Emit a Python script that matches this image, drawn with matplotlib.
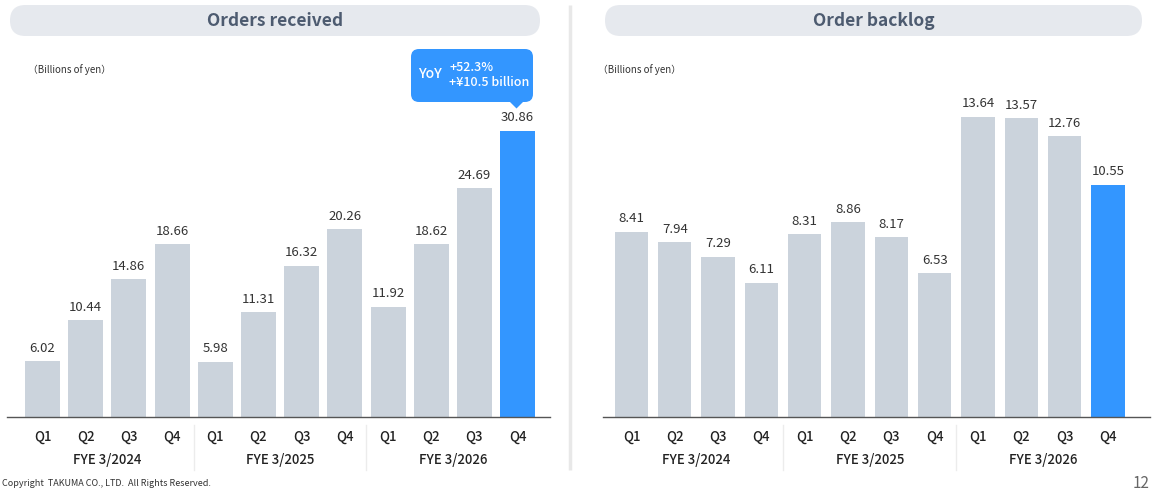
import matplotlib.pyplot as plt
from matplotlib.patches import FancyBboxPatch, Polygon

plt.rcParams['font.family'] = ['Noto Sans CJK JP', 'DejaVu Sans']

# data
quarters = ['Q1', 'Q2', 'Q3', 'Q4'] * 3
years = ['FYE 3/2024', 'FYE 3/2025', 'FYE 3/2026']
orders = [6.02, 10.44, 14.86, 18.66, 5.98, 11.31, 16.32, 20.26, 11.92, 18.62, 24.69, 30.86]
backlog = [8.41, 7.94, 7.29, 6.11, 8.31, 8.86, 8.17, 6.53, 13.64, 13.57, 12.76, 10.55]
titles = ['Orders received', 'Order backlog']
unit = '（Billions of yen）'
yoy = ['+52.3%', '+¥10.5 billion']

GRAY = '#cbd3dc'
BLUE = '#3396ff'
W, H = 1152, 493
PX = 0.72  # points per pixel at dpi 100

fig = plt.figure(figsize=(W / 100, H / 100), dpi=100)


def px_box(x0, y0, x1, y1):
    # pixel box (top-left origin) -> figure fraction
    return [x0 / W, 1 - y1 / H, (x1 - x0) / W, (y1 - y0) / H]


def draw_panel(rect, values, xlim, ylim, width):
    ax = fig.add_axes(rect)
    n = len(values)
    xs = list(range(n))
    colors = [GRAY] * (n - 1) + [BLUE]
    ax.bar(xs, values, width=width, color=colors, zorder=2)
    ax.set_xlim(*xlim)
    ax.set_ylim(*ylim)
    for s in ['top', 'right', 'left']:
        ax.spines[s].set_visible(False)
    ax.spines['bottom'].set_color('#555555')
    ax.spines['bottom'].set_linewidth(1.0)
    ax.set_yticks([])
    ax.set_xticks([])
    ax.patch.set_alpha(0)
    for x, v in zip(xs, values):
        ax.annotate(f'{v:.2f}', (x, v), xytext=(0, 13 * PX), textcoords='offset points',
                    ha='center', va='center', fontsize=9.5, color='#333333')
        ax.annotate(quarters[x], (x, 0), xytext=(0, -20 * PX), textcoords='offset points',
                    ha='center', va='center', fontsize=9.5, color='#222222', fontweight='medium')
    for g, lab in enumerate(years):
        ax.annotate(lab, (g * 4 + 1.5, 0), xytext=(0, -43 * PX), textcoords='offset points',
                    ha='center', va='center', fontsize=9.5, color='#222222', fontweight='medium',
                    annotation_clip=False)
    return ax


# left: baseline at y=417px, 9.27 px per unit
axl = draw_panel(px_box(7, 40, 550, 417), orders, (-0.822, 11.75), (0, 377 / 9.27), 0.81)
# right: 22 px per unit
axr = draw_panel(px_box(603, 40, 1150, 417), backlog, (-0.658, 11.97), (0, 377 / 22.0), 0.77)

# overlay in pixel coordinates
ov = fig.add_axes([0, 0, 1, 1])
ov.set_xlim(0, W)
ov.set_ylim(H, 0)
ov.axis('off')
ov.patch.set_alpha(0)

# title pills
for (x0, x1), t in zip([(10, 540), (605, 1142)], titles):
    ov.add_patch(FancyBboxPatch((x0, 5), x1 - x0, 31,
                                boxstyle='round,pad=0,rounding_size=15.5',
                                fc='#e6e9ee', ec='none'))
    ov.text((x0 + x1) / 2, 20.5, t, ha='center', va='center', fontsize=12.5,
            fontweight='bold', color='#4d5b70')

# panel separator
ov.plot([570, 570], [5, 470], color='#e8e8e8', lw=2.5, solid_capstyle='butt')

# group separators below axis
for ax in (axl, axr):
    for g in range(1, len(years)):
        xp = ax.transData.transform((g * 4 - 0.5, 0))[0]
        ov.plot([xp, xp], [425, 470], color='#ececec', lw=1)

# unit labels
ov.text(28, 70, unit, ha='left', va='center', fontsize=7, color='#333333')
ov.text(598, 70, unit, ha='left', va='center', fontsize=7, color='#333333')

# callout
ov.add_patch(FancyBboxPatch((411, 49), 122, 53, boxstyle='round,pad=0,rounding_size=8',
                            fc=BLUE, ec='none', zorder=5))
ov.add_patch(Polygon([(509, 101), (524, 101), (516.5, 108.5)], closed=True,
                     fc=BLUE, ec='none', zorder=5))
ov.text(430, 74, 'YoY', ha='center', va='center', fontsize=10, color='white',
        fontweight='medium', zorder=6)
ov.text(449, 67.5, yoy[0], ha='left', va='center', fontsize=9, color='white',
        fontweight='medium', zorder=6)
ov.text(449, 83, yoy[1], ha='left', va='center', fontsize=9, color='white',
        fontweight='medium', zorder=6)

# footer
ov.text(2, 483, 'Copyright  TAKUMA CO., LTD.  All Rights Reserved.', ha='left', va='center',
        fontsize=6.5, color='#333333')
ov.text(1149, 483, '12', ha='right', va='center', fontsize=11, color='#666666')

fig.savefig('out.png', dpi=100)
